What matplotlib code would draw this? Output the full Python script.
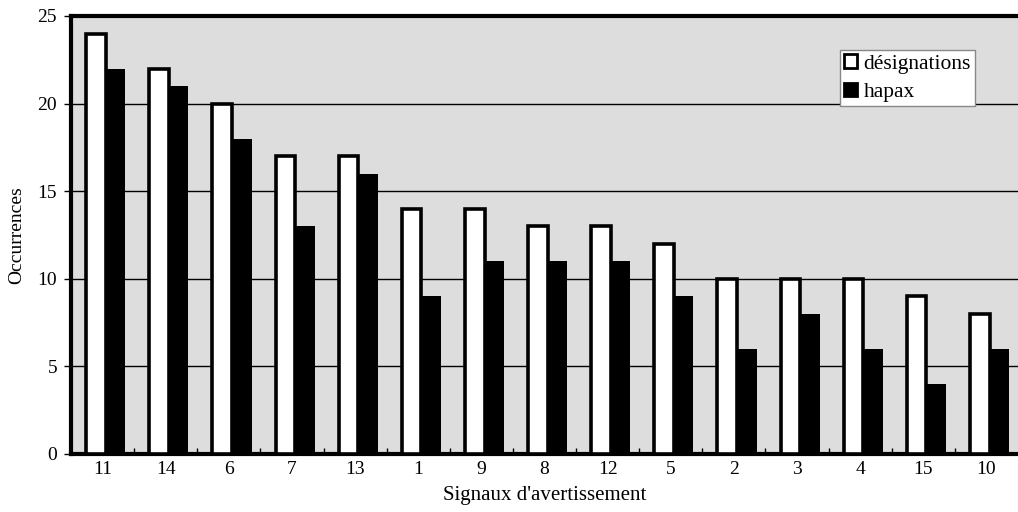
import numpy as np
import matplotlib.pyplot as plt
from matplotlib.ticker import FixedLocator

categories = ['11', '14', '6', '7', '13', '1', '9', '8', '12', '5', '2', '3', '4', '15', '10']
designations = [24, 22, 20, 17, 17, 14, 14, 13, 13, 12, 10, 10, 10, 9, 8]
hapax = [22, 21, 18, 13, 16, 9, 11, 11, 11, 9, 6, 8, 6, 4, 6]

plt.rcParams['font.family'] = ['Liberation Serif', 'DejaVu Serif']

fig = plt.figure(figsize=(10.18, 5.12), dpi=100)
ax = fig.add_axes([71/1018, 1 - 454/512, (1018 - 71)/1018, (454 - 16)/512])
ax.set_facecolor('#dddddd')

x = np.arange(len(categories))
w = 0.31
off = 0.05
ax.bar(x - w/2 + off, designations, w, color='white', edgecolor='black', linewidth=2.6,
       label='désignations', zorder=3)
ax.bar(x + w/2 + off, hapax, w, color='black', edgecolor='black', linewidth=0,
       label='hapax', zorder=3)

ax.set_xlim(-0.5, len(categories) - 0.5)
ax.set_ylim(0, 25)
ax.set_yticks([0, 5, 10, 15, 20, 25])
ax.yaxis.grid(True, color='black', linewidth=1.0)
ax.set_axisbelow(True)

ax.set_xticks(x)
ax.set_xticklabels(categories, fontsize=14)
ax.tick_params(axis='x', which='major', length=0, pad=5)
ax.xaxis.set_minor_locator(FixedLocator(x[:-1] + 0.5))
ax.tick_params(axis='x', which='minor', direction='in', length=4, width=1, color='black')
ax.tick_params(axis='y', length=5, width=1, labelsize=14, pad=5)

for s in ['left', 'bottom', 'top']:
    ax.spines[s].set_linewidth(3)
ax.spines['right'].set_visible(False)

ax.set_ylabel('Occurrences', fontsize=14, va='center')
ax.yaxis.set_label_coords(-0.057, 0.5)
ax.set_xlabel("Signaux d'avertissement", fontsize=15, va='center')
ax.xaxis.set_label_coords(0.5, -0.095)

leg = ax.legend(loc='upper right', bbox_to_anchor=(0.955, 0.922), fontsize=15.5,
                frameon=True, fancybox=False, framealpha=1, edgecolor='#888888',
                handlelength=0.6, handleheight=0.6, handletextpad=0.3,
                borderpad=0.2, labelspacing=0.4, borderaxespad=0)
leg.get_frame().set_linewidth(1)
for h in leg.legend_handles:
    h.set_linewidth(2)

fig.savefig('out.png', dpi=100)
